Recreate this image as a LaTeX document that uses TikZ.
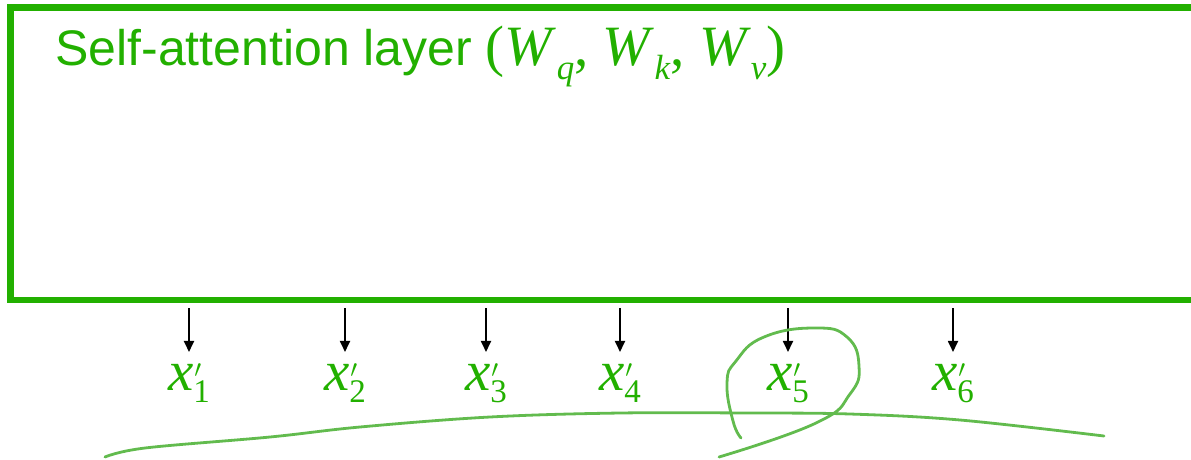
\documentclass[tikz,border=0pt]{standalone}
\usepackage{fontspec}
\setmainfont{Liberation Serif}
\setsansfont{Liberation Sans}
\usetikzlibrary{arrows.meta}

\definecolor{layergreen}{RGB}{34,176,0}
\definecolor{pengreen}{RGB}{98,187,78}

% weight matrix with index, output vector with prime and index
\newcommand{\wsub}[1]{\textit{W}\raisebox{-14pt}{\fontsize{35}{35}\selectfont\textit{#1}}}
\newcommand{\xout}[1]{\textit{x}\rlap{\kern1pt\raisebox{13pt}{\fontsize{30}{30}\selectfont$\prime$}}\raisebox{-12pt}{\fontsize{33}{33}\selectfont #1}}

\tikzset{
  layerbox/.style={draw=layergreen, line width=6.5pt, outer sep=0pt, inner sep=0pt,
    minimum width=1200pt, minimum height=292.5pt, anchor=north west},
  outlabel/.style={anchor=base, inner sep=0pt, text=layergreen,
    font=\fontsize{57}{57}\selectfont},
  outarrow/.style={draw=black, line width=1.8pt, -{Triangle[width=10pt,length=11pt]},
    shorten <=8pt, shorten >=11pt},
  pen/.style={draw=pengreen, line width=2.8pt, line cap=round, line join=round}
}

\begin{document}
\begin{tikzpicture}[x=1pt, y=-1pt]
    \useasboundingbox (0,0) rectangle (1191,459);
    \node[layerbox] (layer) at (10.5,7.5) {};
    \node[anchor=base west, inner sep=0pt, text=layergreen] (title) at (55,65)
      {\fontsize{50}{60}\selectfont\sffamily Self-attention layer
       \fontsize{57}{60}\selectfont\rmfamily(\wsub{q}, \wsub{k}, \wsub{v})};
    \foreach \i/\px in {1/189,2/345,3/486,4/620,5/788,6/953} {
      \node[outlabel] (x\i) at (\px,390) {\xout{\i}};
      \draw[outarrow] (x\i |- layer.south) -- (x\i.north);
    }
    % pen marks
    \draw[pen] plot[smooth, tension=0.8] coordinates {(741,438) (733,421) (727,383)
      (736,361) (764,337) (815,328) (847,337) (859,366) (850,394)
      (816,423) (719,457)};
    \draw[pen] plot[smooth, tension=0.6] coordinates {(105,457) (145,448) (270,437)
      (360,427) (490,417) (620,413) (750,413) (850,414) (960,420) (1104,436)};
  \end{tikzpicture}
\end{document}
